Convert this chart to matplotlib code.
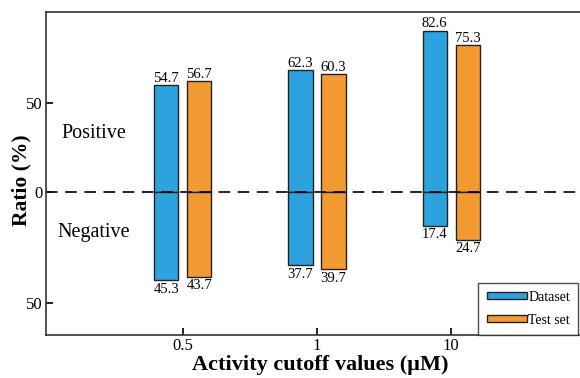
import matplotlib
matplotlib.use('Agg')
import matplotlib.pyplot as plt
import numpy as np

# data
cutoffs = ['0.5', '1', '10']
pos_dataset = [54.7, 62.3, 82.6]
pos_testset = [56.7, 60.3, 75.3]
neg_dataset = [45.3, 37.7, 17.4]
neg_testset = [43.7, 39.7, 24.7]

plt.rcParams['font.family'] = ['Liberation Serif', 'DejaVu Serif']

blue = '#2ca3de'
orange = '#f39b33'

fig = plt.figure(figsize=(5.8, 3.78), dpi=100)
ax = fig.add_axes([0.079, 0.114, 0.921, 0.854])

x = np.arange(len(cutoffs))
w = 0.18
off = 0.123

ax.bar(x - off, pos_dataset, w, color=blue, edgecolor='#222222', linewidth=1, label='Dataset')
ax.bar(x + off, pos_testset, w, color=orange, edgecolor='#222222', linewidth=1, label='Test set')
ax.bar(x - off, -np.array(neg_dataset), w, color=blue, edgecolor='#222222', linewidth=1)
ax.bar(x + off, -np.array(neg_testset), w, color=orange, edgecolor='#222222', linewidth=1)

for i in range(len(cutoffs)):
    ax.text(x[i] - off, pos_dataset[i] + 0.2, '%.1f' % pos_dataset[i], ha='center', va='bottom', fontsize=10.5)
    ax.text(x[i] + off, pos_testset[i] + 0.2, '%.1f' % pos_testset[i], ha='center', va='bottom', fontsize=10.5)
    ax.text(x[i] - off, -neg_dataset[i] - 1.3, '%.1f' % neg_dataset[i], ha='center', va='top', fontsize=10.5)
    ax.text(x[i] + off, -neg_testset[i] - 1.3, '%.1f' % neg_testset[i], ha='center', va='top', fontsize=10.5)

ax.axhline(0, color='black', linestyle=(0, (7, 4.5)), linewidth=1.2)

ax.text(-0.66, 30, 'Positive', ha='center', va='center', fontsize=14.5)
ax.text(-0.66, -20.7, 'Negative', ha='center', va='center', fontsize=14.5)

ax.set_xlim(-1.02, 2.96)
ax.set_ylim(-73.5, 92.2)
ax.set_xticks(x)
ax.set_xticklabels(cutoffs)
ax.set_yticks([-57.1, 0, 45.7])
ax.set_yticklabels(['50', '0', '50'])
ax.tick_params(direction='in', length=5, width=1.2, labelsize=12, pad=2.5)
ax.spines['right'].set_visible(False)
for s in ['left', 'bottom', 'top']:
    ax.spines[s].set_linewidth(1.2)
    ax.spines[s].set_color('#333333')

ax.set_xlabel('Activity cutoff values (\u00b5M)', fontsize=16, fontweight='bold')
ax.set_ylabel('Ratio (%)', fontsize=15.5, fontweight='bold')
ax.yaxis.set_label_coords(-0.026, 0.48)
ax.xaxis.set_label_coords(0.513, -0.062)

leg = ax.legend(loc='lower right', bbox_to_anchor=(0.997, 0.0), fontsize=10, handlelength=2.9, handleheight=0.4,
                handletextpad=0.1, fancybox=False, edgecolor='#222222', borderaxespad=0, labelspacing=0.7,
                borderpad=0.6)
leg.get_frame().set_linewidth(1)

fig.savefig('out.png', dpi=100)
